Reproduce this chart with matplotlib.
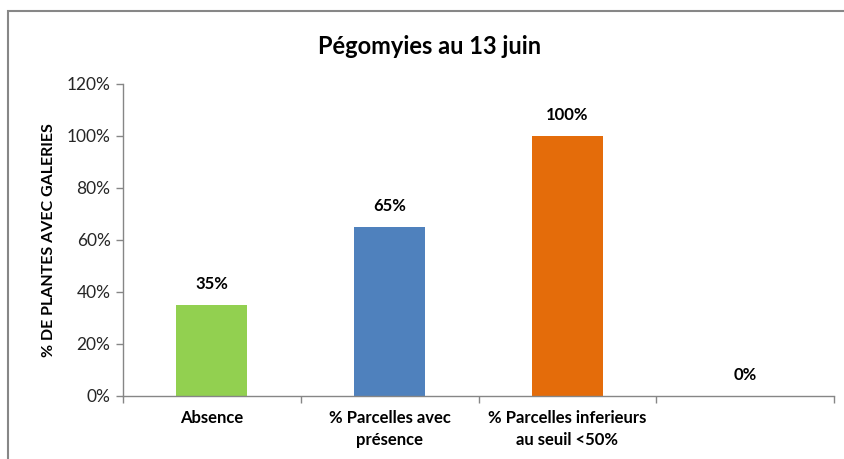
import matplotlib
matplotlib.use("Agg")
import matplotlib.pyplot as plt
from matplotlib.patches import Rectangle
from matplotlib.ticker import FuncFormatter

categories = ["Absence", "% Parcelles avec\nprésence", "% Parcelles inferieurs\nau seuil <50%", ""]
values = [0.35, 0.65, 1.00, 0.0]
colors = ["#92D050", "#4F81BD", "#E46C0A", "#C0504D"]
labels = ["35%", "65%", "100%", "0%"]
yticks = [0, 0.2, 0.4, 0.6, 0.8, 1.0, 1.2]

plt.rcParams['font.family'] = ['Lato', 'DejaVu Sans']

W, H = 844, 459
fig = plt.figure(figsize=(W / 100, H / 100), dpi=100)
fig.patch.set_facecolor("white")

# outer chart frame
fig.patches.append(Rectangle((8 / W, -0.1), 1.2, (H - 11) / H + 0.1, transform=fig.transFigure,
                             fill=False, edgecolor="#878787", linewidth=1.5))

ax = fig.add_axes([123 / W, 63 / H, (834 - 123) / W, (396 - 84) / H])
x = list(range(len(categories)))
ax.bar(x, values, width=0.4, color=colors)
ax.set_xlim(-0.5, len(categories) - 0.5)
ax.set_ylim(0, 1.2)
ax.set_yticks(yticks)
ax.yaxis.set_major_formatter(FuncFormatter(lambda v, p: f"{v*100:.0f}%"))
ax.tick_params(axis='y', labelsize=12.5, colors="#868686", labelcolor="#262626", length=5, width=1, pad=4)

ax.set_xticks([i - 0.5 for i in range(len(categories) + 1)])
ax.set_xticklabels([])
ax.tick_params(axis='x', colors="#868686", length=5, width=1)
for i, c in enumerate(categories):
    ax.text(i, -0.055, c, ha='center', va='top', fontsize=12, fontweight='bold',
            transform=ax.transData, linespacing=1.45)

for sp in ["top", "right"]:
    ax.spines[sp].set_visible(False)
for sp in ["left", "bottom"]:
    ax.spines[sp].set_color("#868686")
    ax.spines[sp].set_linewidth(1)

for i, (v, l) in enumerate(zip(values, labels)):
    ax.text(i, v + 0.05, l, ha='center', va='bottom', fontsize=12, fontweight='bold')

ax.set_ylabel("% DE PLANTES AVEC GALERIES", fontsize=11.5, fontweight='bold', labelpad=8)
fig.text(430 / W, 1 - 46 / H, "Pégomyies au 13 juin", ha='center', va='center',
         fontsize=17, fontweight='bold')

fig.savefig("out.png", dpi=100, facecolor="white")
